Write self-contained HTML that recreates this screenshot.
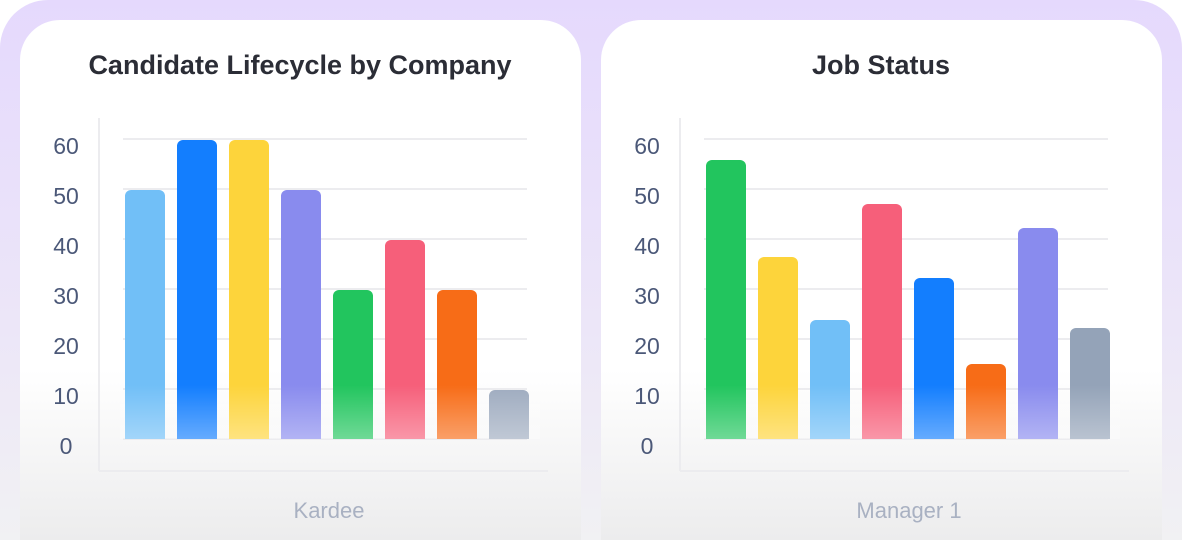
<!DOCTYPE html>
<html><head><style>
html,body{margin:0;padding:0;background:#fff;width:1182px;height:540px;overflow:hidden;font-family:"Liberation Sans",sans-serif;position:relative}
.outer{position:absolute;left:0;top:0;width:1182px;height:540px;border-radius:48px 48px 0 0;background:linear-gradient(#e5d9fd,#ece6f8 60%,#f1f1f3);overflow:hidden}
.card{position:absolute;top:20px;width:561px;height:520px;border-radius:40px 40px 0 0;background:linear-gradient(#fff 0,#fff 350px,#ececed 520px)}
svg{position:absolute;left:0;top:0}
</style></head><body>
<div class="outer">
<div class="card" style="left:20px"></div>
<div class="card" style="left:601px"></div>
</div>
<svg width="1182" height="540">
<defs>
<linearGradient id="w" x1="0" y1="0" x2="0" y2="1"><stop offset="0" stop-color="#fff" stop-opacity="0"/><stop offset="1" stop-color="#fff" stop-opacity="0.35"/></linearGradient>
</defs>
<g font-family="Liberation Sans, sans-serif">
<text x="300" y="74" text-anchor="middle" font-size="27" font-weight="bold" fill="#2b2d36">Candidate Lifecycle by Company</text>
<text x="881" y="74" text-anchor="middle" font-size="27" font-weight="bold" fill="#2b2d36">Job Status</text>
<g stroke="#ececef" stroke-width="2">
<line x1="99" y1="118" x2="99" y2="471"/><line x1="99" y1="471" x2="548" y2="471"/>
<line x1="123" y1="139" x2="527" y2="139"/><line x1="123" y1="189" x2="527" y2="189"/><line x1="123" y1="239" x2="527" y2="239"/><line x1="123" y1="289" x2="527" y2="289"/><line x1="123" y1="339" x2="527" y2="339"/><line x1="123" y1="389" x2="527" y2="389"/><line x1="123" y1="439" x2="527" y2="439"/>
</g>
<g stroke="#ececef" stroke-width="2">
<line x1="680" y1="118" x2="680" y2="471"/><line x1="680" y1="471" x2="1129" y2="471"/>
<line x1="704" y1="139" x2="1108" y2="139"/><line x1="704" y1="189" x2="1108" y2="189"/><line x1="704" y1="239" x2="1108" y2="239"/><line x1="704" y1="289" x2="1108" y2="289"/><line x1="704" y1="339" x2="1108" y2="339"/><line x1="704" y1="389" x2="1108" y2="389"/><line x1="704" y1="439" x2="1108" y2="439"/>
</g>
<g font-size="23" fill="#4b5878" text-anchor="middle">
<text x="66" y="154">60</text><text x="66" y="204">50</text><text x="66" y="254">40</text><text x="66" y="304">30</text><text x="66" y="354">20</text><text x="66" y="404">10</text><text x="66" y="454">0</text>
<text x="647" y="154">60</text><text x="647" y="204">50</text><text x="647" y="254">40</text><text x="647" y="304">30</text><text x="647" y="354">20</text><text x="647" y="404">10</text><text x="647" y="454">0</text>
</g>
<g font-size="22" fill="#a9b1c2" text-anchor="middle">
<text x="329" y="518">Kardee</text><text x="909" y="518">Manager 1</text>
</g>
<g>
<path d="M125,439V196a6,6 0 0 1 6,-6h28a6,6 0 0 1 6,6V439z" fill="#71bff7"/>
<path d="M177,439V146a6,6 0 0 1 6,-6h28a6,6 0 0 1 6,6V439z" fill="#137efe"/>
<path d="M229,439V146a6,6 0 0 1 6,-6h28a6,6 0 0 1 6,6V439z" fill="#fdd43b"/>
<path d="M281,439V196a6,6 0 0 1 6,-6h28a6,6 0 0 1 6,6V439z" fill="#898bee"/>
<path d="M333,439V296a6,6 0 0 1 6,-6h28a6,6 0 0 1 6,6V439z" fill="#22c55e"/>
<path d="M385,439V246a6,6 0 0 1 6,-6h28a6,6 0 0 1 6,6V439z" fill="#f65f7a"/>
<path d="M437,439V296a6,6 0 0 1 6,-6h28a6,6 0 0 1 6,6V439z" fill="#f76c17"/>
<path d="M489,439V396a6,6 0 0 1 6,-6h28a6,6 0 0 1 6,6V439z" fill="#9eabbf"/>
<path d="M706,439V166a6,6 0 0 1 6,-6h28a6,6 0 0 1 6,6V439z" fill="#22c55e"/>
<path d="M758,439V263a6,6 0 0 1 6,-6h28a6,6 0 0 1 6,6V439z" fill="#fdd43b"/>
<path d="M810,439V326a6,6 0 0 1 6,-6h28a6,6 0 0 1 6,6V439z" fill="#71bff7"/>
<path d="M862,439V210a6,6 0 0 1 6,-6h28a6,6 0 0 1 6,6V439z" fill="#f65f7a"/>
<path d="M914,439V284a6,6 0 0 1 6,-6h28a6,6 0 0 1 6,6V439z" fill="#137efe"/>
<path d="M966,439V370a6,6 0 0 1 6,-6h28a6,6 0 0 1 6,6V439z" fill="#f76c17"/>
<path d="M1018,439V234a6,6 0 0 1 6,-6h28a6,6 0 0 1 6,6V439z" fill="#898bee"/>
<path d="M1070,439V334a6,6 0 0 1 6,-6h28a6,6 0 0 1 6,6V439z" fill="#94a3b8"/>
</g>
<rect x="120" y="385" width="420" height="54" fill="url(#w)"/>
<rect x="700" y="385" width="420" height="54" fill="url(#w)"/>
</g>
</svg>
</body></html>
